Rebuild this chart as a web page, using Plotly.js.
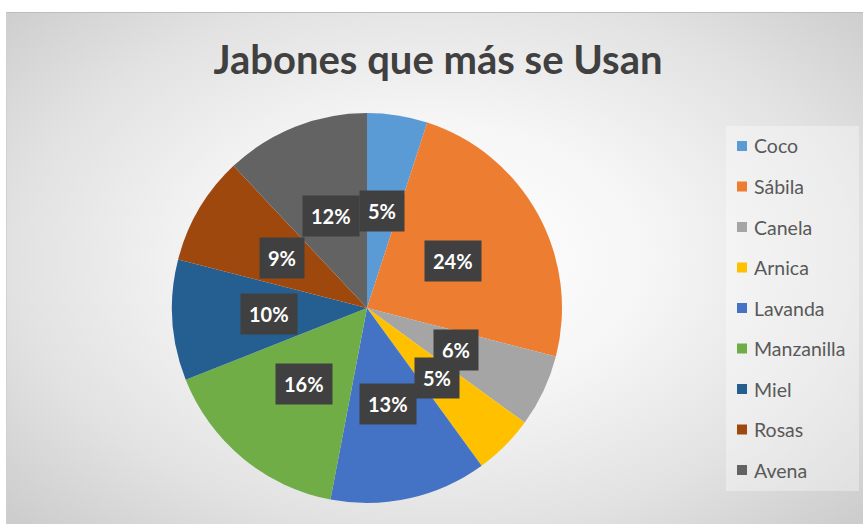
<!DOCTYPE html>
<html><head><meta charset="utf-8">
<script src="https://cdn.plot.ly/plotly-3.0.1.min.js"></script>
<style>
html,body{margin:0;padding:0;background:#fff;}
#frame{position:absolute;left:6px;top:12px;width:857px;height:512px;
 background:radial-gradient(ellipse 70% 75% at 50% 48%, #ffffff 0%, #f6f6f6 35%, #e2e2e2 70%, #cbcbcb 100%);
 border-top:1px solid #bdbdbd;border-left:1px solid #d0d0d0;}
#chart{position:absolute;left:0;top:0;width:863px;height:524px;}
</style></head>
<body><div id="frame"></div><div id="chart"></div>
<script>
const categories = ["Coco","Sábila","Canela","Arnica","Lavanda","Manzanilla","Miel","Rosas","Avena"];
const values = [5,24,6,5,13,16,10,9,12];
const colors = ["#5B9BD5","#ED7D31","#A5A5A5","#FFC000","#4472C4","#70AD47","#255E91","#9E480E","#636363"];

const W=863,H=524, cx=367, cy=308, R=195;
const total = values.reduce((a,b)=>a+b,0);
const annotations=[], shapes=[];
// data labels
let cum=0;
values.forEach((v,i)=>{
  const mid=(cum+v/2)/total*2*Math.PI; cum+=v;
  const r=0.505*R;
  const px=cx+r*Math.sin(mid), py=cy-r*Math.cos(mid);
  annotations.push({x:px/W,y:1-py/H,xref:'paper',yref:'paper',showarrow:false,
    text:'<b>'+Math.round(v/total*100)+'%</b>',font:{family:'Lato, Open Sans, sans-serif',size:20,color:'#ffffff'},
    bgcolor:'#404040',borderpad:8,xanchor:'center',yanchor:'middle'});
});
// legend box
shapes.push({type:'rect',xref:'paper',yref:'paper',x0:726/W,x1:859/W,y0:1-491/H,y1:1-126/H,
  fillcolor:'rgba(255,255,255,0.35)',line:{width:0},layer:'below'});
categories.forEach((c,i)=>{
  const y=146+i*40.5;
  shapes.push({type:'rect',xref:'paper',yref:'paper',x0:737/W,x1:747/W,y0:1-(y+5)/H,y1:1-(y-5)/H,
    fillcolor:colors[i],line:{width:0}});
  annotations.push({x:752/W,y:1-y/H,xref:'paper',yref:'paper',showarrow:false,text:c,
    xanchor:'left',yanchor:'middle',font:{family:'Lato, Open Sans, sans-serif',size:19.5,color:'#595959'}});
});

const trace={type:'pie',labels:categories,values:values,sort:false,direction:'clockwise',rotation:0,
  marker:{colors:colors,line:{width:0}},textinfo:'none',hoverinfo:'label+percent',showlegend:false,
  domain:{x:[(cx-R)/W,(cx+R)/W],y:[(H-cy-R)/H,(H-cy+R)/H]}};

const layout={width:W,height:H,margin:{l:0,r:0,t:0,b:0},paper_bgcolor:'rgba(0,0,0,0)',plot_bgcolor:'rgba(0,0,0,0)',
  title:{text:'<b>Jabones que más se Usan</b>',x:438/W,xanchor:'center',y:1-60/H,yanchor:'middle',
    font:{family:'Lato, Open Sans, sans-serif',size:40,color:'#404040'}},
  showlegend:false,annotations:annotations,shapes:shapes};
Plotly.newPlot('chart',[trace],layout,{displayModeBar:false,staticPlot:true});
</script></body></html>
